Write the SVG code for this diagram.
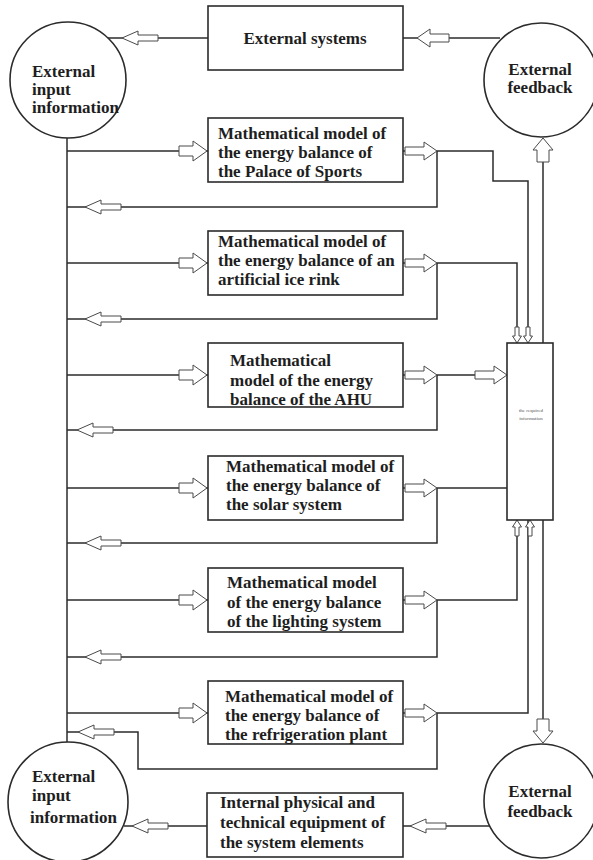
<svg xmlns="http://www.w3.org/2000/svg" xmlns:xlink="http://www.w3.org/1999/xlink" width="593" height="860" viewBox="0 0 593 860">
  <style>
    .ln{fill:none;stroke:#2b2b2b;stroke-width:1.5}
    .box{fill:#fff;stroke:#2b2b2b;stroke-width:1.6}
    .ar{fill:#fff;stroke:#4a4a4a;stroke-width:1}
    .t{font-family:"Liberation Serif","Times New Roman",serif;font-weight:bold;font-size:17px;fill:#1e1e1e}
    .c{text-anchor:middle}
    .tiny{font-family:"Liberation Serif","Times New Roman",serif;font-size:5px;fill:#555;text-anchor:middle}
  </style>
  <defs>
    <!-- hollow block arrows, tip at origin, pointing to +x -->
    <path id="arL" d="M0,0 L-14,-10 L-14,-5 L-28,-5 L-28,5 L-14,5 L-14,10 Z"/>
    <path id="arM" d="M0,0 L-13,-9 L-13,-4 L-32,-4 L-32,4 L-13,4 L-13,9 Z"/>
    <path id="arS" d="M0,0 L-16,-7 L-16,-3 L-36,-3 L-36,3 L-16,3 L-16,7 Z"/>
    <path id="arT" d="M0,0 L-7,-4.5 L-7,-2 L-16,-2 L-16,2 L-7,2 L-7,4.5 Z"/>
    <path id="arF" d="M0,0 L-12,-10 L-12,-6 L-24,-6 L-24,6 L-12,6 L-12,10 Z"/>
  </defs>

  <!-- connectors -->
  <g id="connectors">
    <path class="ln" d="M500,38 H403"/>
    <path class="ln" d="M208,38 H108"/>
    <path class="ln" d="M67,138 V743"/>

    <!-- inputs from the main bus -->
    <path class="ln" d="M67,151 H208"/>
    <path class="ln" d="M67,263 H208"/>
    <path class="ln" d="M67,375 H208"/>
    <path class="ln" d="M67,488 H208"/>
    <path class="ln" d="M67,600 H208"/>
    <path class="ln" d="M67,713 H208"/>

    <!-- outputs and return loops -->
    <path class="ln" d="M403,151 H493 V181 H528 V343"/>
    <path class="ln" d="M437,151 V207 H67"/>
    <path class="ln" d="M403,263 H517 V343"/>
    <path class="ln" d="M437,263 V319 H67"/>
    <path class="ln" d="M403,375 H507"/>
    <path class="ln" d="M437,375 V430 H67"/>
    <path class="ln" d="M403,488 H507"/>
    <path class="ln" d="M437,488 V543 H67"/>
    <path class="ln" d="M403,600 H517 V520"/>
    <path class="ln" d="M437,600 V657 H67"/>
    <path class="ln" d="M403,713 H528 V520"/>
    <path class="ln" d="M437,713 V769 H138 V732 H67"/>

    <!-- feedback lines -->
    <path class="ln" d="M543,343 V138"/>
    <path class="ln" d="M543,520 V743"/>

    <!-- bottom row -->
    <path class="ln" d="M490,826 H403"/>
    <path class="ln" d="M207,826 H124"/>

    <!-- arrowheads -->
    <use href="#arM" class="ar" transform="translate(417,38) rotate(180)"/>
    <use href="#arS" class="ar" transform="translate(122,38) rotate(180)"/>

    <use href="#arL" class="ar" transform="translate(207,151)"/>
    <use href="#arL" class="ar" transform="translate(207,263)"/>
    <use href="#arL" class="ar" transform="translate(207,375)"/>
    <use href="#arL" class="ar" transform="translate(207,488)"/>
    <use href="#arL" class="ar" transform="translate(207,600)"/>
    <use href="#arL" class="ar" transform="translate(207,713)"/>

    <use href="#arM" class="ar" transform="translate(437,151)"/>
    <use href="#arM" class="ar" transform="translate(437,263)"/>
    <use href="#arM" class="ar" transform="translate(437,375)"/>
    <use href="#arM" class="ar" transform="translate(437,488)"/>
    <use href="#arM" class="ar" transform="translate(437,600)"/>
    <use href="#arM" class="ar" transform="translate(437,713)"/>

    <use href="#arS" class="ar" transform="translate(85,207) rotate(180)"/>
    <use href="#arS" class="ar" transform="translate(85,319) rotate(180)"/>
    <use href="#arS" class="ar" transform="translate(77,430) rotate(180)"/>
    <use href="#arS" class="ar" transform="translate(85,543) rotate(180)"/>
    <use href="#arS" class="ar" transform="translate(85,657) rotate(180)"/>
    <use href="#arS" class="ar" transform="translate(78,732) rotate(180)"/>

    <use href="#arM" class="ar" transform="translate(507,375)"/>

    <use href="#arT" class="ar" transform="translate(517,343) rotate(90)"/>
    <use href="#arT" class="ar" transform="translate(528,343) rotate(90)"/>
    <use href="#arT" class="ar" transform="translate(517,520) rotate(-90)"/>
    <use href="#arT" class="ar" transform="translate(530,520) rotate(-90)"/>

    <use href="#arF" class="ar" transform="translate(543,138) rotate(-90)"/>
    <use href="#arF" class="ar" transform="translate(543,743) rotate(90)"/>

    <use href="#arS" class="ar" transform="translate(410,826) rotate(180)"/>
    <use href="#arS" class="ar" transform="translate(132,826) rotate(180)"/>
  </g>

  <!-- nodes -->
  <g id="ext-input-top">
    <circle class="box" cx="68" cy="80" r="58"/>
    <text class="t" x="32" y="77">External</text>
    <text class="t" x="32" y="95">input</text>
    <text class="t" x="32" y="113">information</text>
  </g>

  <g id="ext-systems">
    <rect class="box" x="208" y="6" width="195" height="64"/>
    <text class="t c" x="305" y="44">External systems</text>
  </g>

  <g id="ext-feedback-top">
    <circle class="box" cx="541" cy="80" r="57"/>
    <text class="t c" x="540" y="75">External</text>
    <text class="t c" x="540" y="93">feedback</text>
  </g>

  <g id="model-palace">
    <rect class="box" x="208" y="118" width="195" height="64"/>
    <text class="t" x="218" y="139">Mathematical model of</text>
    <text class="t" x="218" y="158">the energy balance of</text>
    <text class="t" x="218" y="177">the Palace of Sports</text>
  </g>

  <g id="model-ice-rink">
    <rect class="box" x="208" y="231" width="195" height="64"/>
    <text class="t" x="218" y="247">Mathematical model of</text>
    <text class="t" x="218" y="266">the energy balance of an</text>
    <text class="t" x="218" y="285">artificial ice rink</text>
  </g>

  <g id="model-ahu">
    <rect class="box" x="208" y="343" width="195" height="64"/>
    <text class="t" x="230" y="366">Mathematical</text>
    <text class="t" x="230" y="386">model of the energy</text>
    <text class="t" x="230" y="405">balance of the AHU</text>
  </g>

  <g id="model-solar">
    <rect class="box" x="208" y="456" width="195" height="64"/>
    <text class="t" x="226" y="472">Mathematical model of</text>
    <text class="t" x="226" y="491">the energy balance of</text>
    <text class="t" x="226" y="510">the solar system</text>
  </g>

  <g id="model-lighting">
    <rect class="box" x="208" y="568" width="195" height="64"/>
    <text class="t" x="227" y="588">Mathematical model</text>
    <text class="t" x="227" y="608">of the energy balance</text>
    <text class="t" x="227" y="627">of the lighting system</text>
  </g>

  <g id="model-refrigeration">
    <rect class="box" x="208" y="681" width="195" height="63"/>
    <text class="t" x="225" y="702">Mathematical model of</text>
    <text class="t" x="225" y="721">the energy balance of</text>
    <text class="t" x="225" y="740">the refrigeration plant</text>
  </g>

  <g id="required-information">
    <rect class="box" x="507" y="343" width="46" height="177"/>
    <text class="tiny" x="531" y="412">the required</text>
    <text class="tiny" x="531" y="420">information</text>
  </g>

  <g id="ext-input-bottom">
    <circle class="box" cx="68" cy="802" r="60"/>
    <text class="t" x="32" y="782">External</text>
    <text class="t" x="32" y="801">input</text>
    <text class="t" x="30" y="823">information</text>
  </g>

  <g id="internal-equipment">
    <rect class="box" x="207" y="793" width="196" height="64"/>
    <text class="t" x="220" y="808">Internal physical and</text>
    <text class="t" x="220" y="828">technical equipment of</text>
    <text class="t" x="220" y="848">the system elements</text>
  </g>

  <g id="ext-feedback-bottom">
    <circle class="box" cx="541" cy="801" r="57"/>
    <text class="t c" x="540" y="797">External</text>
    <text class="t c" x="540" y="817">feedback</text>
  </g>
</svg>
